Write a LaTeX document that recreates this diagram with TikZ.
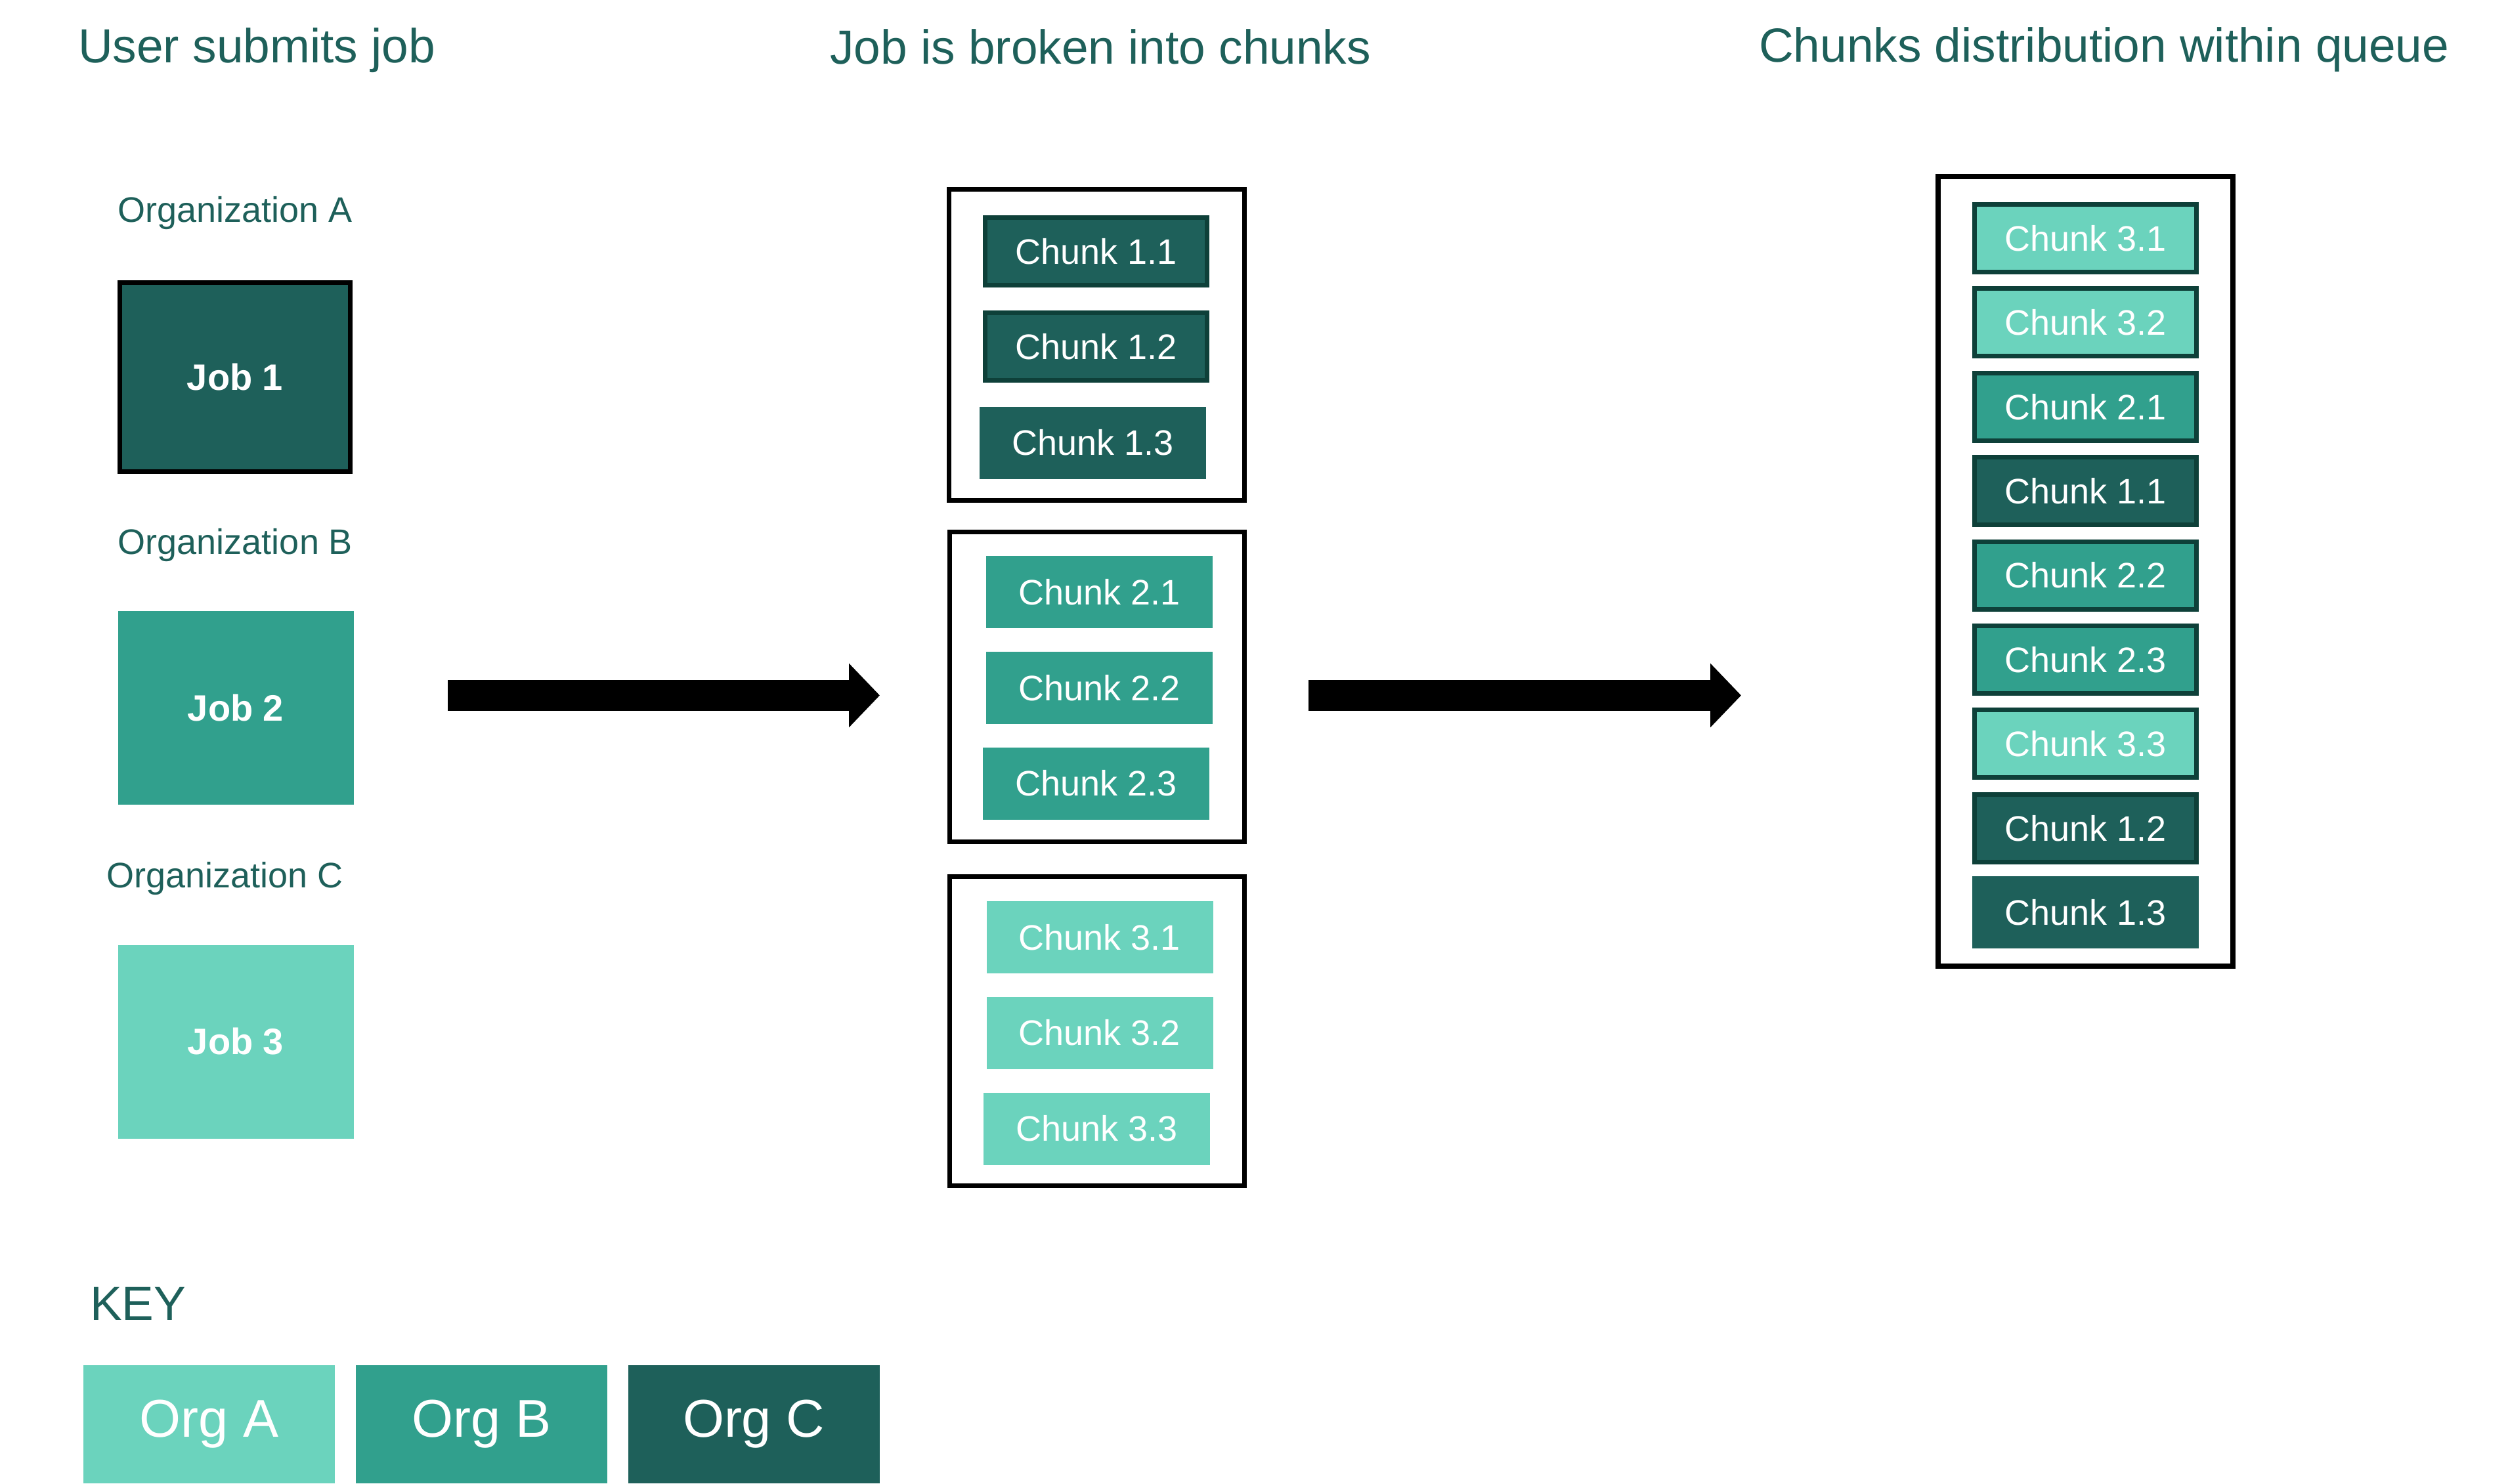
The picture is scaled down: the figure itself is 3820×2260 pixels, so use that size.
\documentclass[tikz,border=0pt]{standalone}
\usepackage{fontspec}
\setmainfont{Liberation Sans}
\usetikzlibrary{arrows.meta}
\definecolor{cdark}{RGB}{30,96,90}
\definecolor{cmid}{RGB}{49,160,141}
\definecolor{clight}{RGB}{107,211,189}
\definecolor{cedge}{RGB}{14,64,57}
\begin{document}
\begin{tikzpicture}[x=1pt,y=-1pt,
 title/.style={anchor=base west, inner sep=0, text=cdark, font=\fontsize{73}{80}\selectfont},
 orglabel/.style={anchor=base, inner sep=0, text=cdark, font=\fontsize{54}{60}\selectfont},
 job/.style={minimum width=359pt, minimum height=295pt, inner sep=0, text=white, font=\bfseries\fontsize{56}{60}\selectfont},
 container/.style={draw=black, line width=7pt, fill=white, inner sep=0},
 chunk/.style={minimum width=345pt, minimum height=110pt, inner sep=0, text=white, font=\fontsize{54}{60}\selectfont},
 edged/.style={draw=cedge, line width=7pt, minimum width=338pt, minimum height=103pt},
 keybox/.style={minimum width=383pt, minimum height=180pt, inner sep=0, text=white, font=\fontsize{81}{90}\selectfont},
 bigarrow/.style={line width=47pt, -{Triangle[length=47pt,width=95pt]}}
]
\useasboundingbox[fill=white] (0,0) rectangle (3820,2260);

% titles
\node[title] (t1) at (119,95) {User submits job};
\node[title] (t2) at (1264,97) {Job is broken into chunks};
\node[title] (t3) at (2679,94) {Chunks distribution within queue};

% organizations and jobs
\node[orglabel] (lA) at (358,338) {Organization A};
\node[job, fill=cdark, draw=black, line width=7pt, minimum width=351pt, minimum height=288pt] (job1) at (358,574.5) {Job 1};
\node[orglabel] (lB) at (358.5,844) {Organization B};
\node[job, fill=cmid] (job2) at (359,1078.5) {Job 2};
\node[orglabel] (lC) at (342.5,1352) {Organization C};
\node[job, fill=clight] (job3) at (359,1587) {Job 3};

% middle containers
\node[container, minimum width=450pt, minimum height=474pt] (box1) at (1670.5,525.5) {};
\node[container, minimum width=449pt, minimum height=472pt] (box2) at (1670.5,1046.5) {};
\node[container, minimum width=449pt, minimum height=471pt] (box3) at (1670.5,1571) {};

\node[chunk, fill=cdark, edged] (m11) at (1669.5,383) {Chunk 1.1};
\node[chunk, fill=cdark, edged] (m12) at (1669.5,528) {Chunk 1.2};
\node[chunk, fill=cdark] (m13) at (1664.5,674.5) {Chunk 1.3};
\node[chunk, fill=cmid] (m21) at (1674.5,902) {Chunk 2.1};
\node[chunk, fill=cmid] (m22) at (1674.5,1048) {Chunk 2.2};
\node[chunk, fill=cmid] (m23) at (1669.5,1193.5) {Chunk 2.3};
\node[chunk, fill=clight] (m31) at (1675,1428) {Chunk 3.1};
\node[chunk, fill=clight] (m32) at (1675,1573.5) {Chunk 3.2};
\node[chunk, fill=clight] (m33) at (1670.5,1719.5) {Chunk 3.3};

% right container (queue)
\node[container, line width=8pt, minimum width=449pt, minimum height=1203pt] (queue) at (3176.5,870.5) {};
\node[chunk, fill=clight, edged] (q1) at (3176.5,363) {Chunk 3.1};
\node[chunk, fill=clight, edged] (q2) at (3176.5,491.4) {Chunk 3.2};
\node[chunk, fill=cmid, edged] (q3) at (3176.5,619.8) {Chunk 2.1};
\node[chunk, fill=cdark, edged] (q4) at (3176.5,748.2) {Chunk 1.1};
\node[chunk, fill=cmid, edged] (q5) at (3176.5,876.6) {Chunk 2.2};
\node[chunk, fill=cmid, edged] (q6) at (3176.5,1005) {Chunk 2.3};
\node[chunk, fill=clight, edged] (q7) at (3176.5,1133.4) {Chunk 3.3};
\node[chunk, fill=cdark, edged] (q8) at (3176.5,1261.8) {Chunk 1.2};
\node[chunk, fill=cdark] (q9) at (3176.5,1390.2) {Chunk 1.3};

% arrows
\coordinate (a1s) at (682,1059.5);
\coordinate (a1e) at (1340,1059.5);
\coordinate (a2s) at (1993,1059.5);
\coordinate (a2e) at (2652,1059.5);
\draw[bigarrow] (a1s) -- (a1e);
\draw[bigarrow] (a2s) -- (a2e);

% key
\node[title] (key) at (137,2011) {KEY};
\node[keybox, fill=clight] (kA) at (318.5,2170) {Org A};
\node[keybox, fill=cmid] (kB) at (733.5,2170) {Org B};
\node[keybox, fill=cdark] (kC) at (1148,2170) {Org C};
\end{tikzpicture}
\end{document}
